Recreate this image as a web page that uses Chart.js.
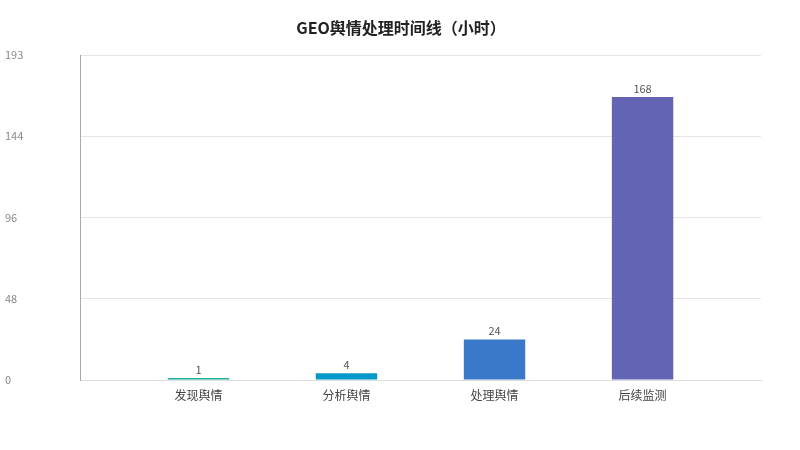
<!DOCTYPE html>
<html>
<head>
<meta charset="utf-8">
<script src="https://cdn.jsdelivr.net/npm/chart.js@4"></script>
<style>
  html, body { margin: 0; padding: 0; background: #fff; }
  #wrap { width: 800px; height: 450px; }
</style>
</head>
<body>
<div id="wrap"><canvas id="chart"></canvas></div>
<script>
// chart data
const chartTitle = 'GEO舆情处理时间线（小时）';
const categories = ['发现舆情', '分析舆情', '处理舆情', '后续监测'];
const hours = [1, 4, 24, 168];
const barColors = ['#1aae9c', '#0099c9', '#3a78c9', '#6464b4'];
const yMax = 193;
const yTicks = [0, 48.25, 96.5, 144.75, 193];

const fontFamily = '"Noto Sans CJK SC", "Noto Sans", sans-serif';

// value labels on top of bars + centered title
const valueLabels = {
    id: 'valueLabels',
    afterDatasetsDraw(chart) {
        const ctx = chart.ctx;
        const meta = chart.getDatasetMeta(0);
        ctx.save();
        ctx.font = '11px ' + fontFamily;
        ctx.fillStyle = '#555';
        ctx.textAlign = 'center';
        ctx.textBaseline = 'bottom';
        meta.data.forEach((bar, i) => {
            ctx.fillText(hours[i], bar.x, bar.y - 3);
        });

        // title, centered on the page rather than the padded box
        ctx.font = 'bold 16px ' + fontFamily;
        ctx.fillStyle = '#222';
        ctx.textBaseline = 'middle';
        ctx.fillText(chartTitle, chart.width / 2 + 1, 28);
        ctx.restore();
    }
};

new Chart(document.getElementById('chart'), {
    type: 'bar',
    data: {
        datasets: [{
            data: hours.map((v, i) => ({ x: i, y: v })),
            backgroundColor: barColors,
            barPercentage: 0.83,
            categoryPercentage: 0.5,
            minBarLength: 2
        }]
    },
    options: {
        responsive: true,
        maintainAspectRatio: false,
        animation: false,
        layout: { padding: { left: 5, right: 39, top: 55, bottom: 47 } },
        plugins: {
            legend: { display: false },
            tooltip: { enabled: false },
            title: { display: false }
        },
        scales: {
            x: {
                type: 'linear',
                offset: false,
                min: -0.8,
                max: 3.8,
                afterBuildTicks(axis) {
                    axis.ticks = categories.map((c, i) => ({ value: i }));
                },
                afterFit(axis) {
                    axis.height = 23;
                },
                ticks: {
                    callback: (v) => categories[v],
                    color: '#444',
                    font: { size: 12, family: fontFamily },
                    padding: 8
                },
                grid: { display: false, drawTicks: false },
                border: { display: true, color: '#dddddd' }
            },
            y: {
                min: 0,
                max: yMax,
                afterBuildTicks(axis) {
                    axis.ticks = yTicks.map(v => ({ value: v }));
                },
                afterFit(axis) {
                    axis.width = 75;
                },
                ticks: {
                    callback: (v) => Math.floor(v),
                    color: '#888',
                    font: { size: 11, family: fontFamily },
                    crossAlign: 'far',
                    padding: 4
                },
                grid: { color: '#e6e6e6', drawTicks: false },
                border: { display: true, color: '#aaaaaa' }
            }
        }
    },
    plugins: [valueLabels]
});
</script>
</body>
</html>
